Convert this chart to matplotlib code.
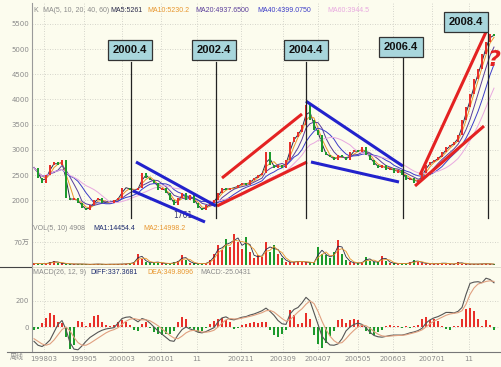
import numpy as np
import pandas as pd
import matplotlib
matplotlib.use("Agg")
import matplotlib.pyplot as plt
from matplotlib.lines import Line2D

plt.rcParams['font.family'] = ['DejaVu Sans', 'Noto Sans CJK SC']

# ============================================================
# Data (one bar every ~5 weeks)
# ============================================================

close = [2650, 2450, 2350, 2500, 2700, 2750, 2700, 2800, 2050, 2000,
         2050, 1950, 1850, 1800, 1900, 2000, 2050, 1950, 1950, 1950,
         2000, 2050, 2250, 2250, 2200, 2200, 2250, 2550, 2450, 2400,
         2350, 2200, 2250, 2150, 2000, 1900, 2050, 2150, 2000, 2100,
         1950, 1850, 1800, 1900, 1950, 2000, 2150, 2250, 2200, 2250,
         2250, 2300, 2350, 2300, 2400, 2450, 2500, 2550, 2950, 2700,
         2650, 2700, 2650, 2800, 3150, 3250, 3350, 3500, 3900, 3600,
         3400, 3300, 2950, 2900, 2850, 2800, 2900, 2850, 2800, 2950,
         3000, 2950, 3050, 2900, 2800, 2700, 2650, 2700, 2600, 2650,
         2550, 2600, 2500, 2400, 2450, 2350, 2400, 2550, 2700, 2750,
         2800, 2850, 2950, 3050, 3100, 3150, 3300, 3600, 3850, 4100,
         4400, 4600, 4900, 5150, 5300, 5250]

# volume, in 万
volume = [5, 4, 4, 5, 8, 12, 6, 5, 4, 3,
          3, 3, 3, 2, 2, 3, 3, 2, 2, 3,
          2, 3, 3, 4, 5, 10, 35, 18, 8, 6,
          10, 8, 5, 4, 5, 8, 12, 30, 15, 6,
          5, 4, 4, 6, 15, 35, 60, 45, 80, 55,
          95, 70, 50, 85, 40, 20, 30, 25, 70, 40,
          60, 35, 20, 10, 8, 10, 12, 10, 8, 8,
          6, 55, 35, 30, 20, 40, 75, 35, 15, 8,
          6, 6, 8, 25, 12, 8, 10, 28, 12, 6,
          5, 4, 5, 4, 8, 14, 10, 6, 4, 4,
          4, 4, 7, 4, 3, 3, 9, 4, 3, 3,
          3, 3, 4, 4, 3, 2]

diff = [-110, -140, -150, -130, -100, -40, 20, 50, -20, -120,
        -170, -175, -145, -110, -80, -60, -40, -25, -15, -10,
        -5, 30, 65, 75, 78, 60, 40, 65, 55, 30,
        0, -30, -55, -80, -105, -110, -60, -20, 0, -15,
        -25, -40, -45, -35, -20, -5, 40, 70, 78, 60,
        55, 65, 75, 80, 92, 100, 112, 125, 145, 120,
        90, 50, 25, 20, 100, 135, 150, 185, 228, 200,
        110, 20, -70, -110, -138, -140, -130, -90, -30, 0,
        20, 30, 20, -5, -40, -65, -75, -78, -72, -65,
        -62, -62, -62, -55, -45, -38, -28, -10, 30, 55,
        70, 80, 95, 112, 112, 108, 120, 150, 250, 335,
        345, 348, 340, 375, 365, 340]

dea = [-90, -110, -130, -140, -130, -100, -60, -20, 0, -30,
       -80, -120, -140, -140, -125, -105, -85, -65, -45, -30,
       -20, -5, 20, 45, 60, 65, 58, 55, 55, 48,
       30, 10, -15, -40, -65, -85, -90, -70, -45, -30,
       -25, -30, -38, -40, -35, -25, 0, 30, 55, 65,
       62, 62, 68, 75, 82, 90, 100, 110, 125, 128,
       115, 90, 65, 45, 55, 85, 115, 140, 175, 200,
       180, 120, 45, -20, -70, -105, -125, -120, -90, -55,
       -25, 0, 15, 10, -10, -35, -55, -68, -72, -70,
       -67, -65, -64, -60, -52, -44, -35, -22, 0, 25,
       45, 60, 75, 90, 100, 105, 110, 125, 175, 250,
       300, 330, 340, 350, 355, 350]

macd = [-20, -15, 30, 70, 105, 90, 40, 30, -80, -170,
        -140, 45, 35, 10, 30, 85, 90, 40, 15, 10,
        15, 35, 55, 40, 15, -20, -30, 20, 40, -10,
        -40, -55, -60, -55, -50, -30, 40, 75, 60, -10,
        -25, -35, -30, -10, 20, 45, 60, 68, 50, 40,
        -15, -10, 15, 20, 30, 35, 30, 38, 35, -20,
        -60, -75, -50, -20, 130, 90, 25, 30, 105, 60,
        -60, -130, -160, -120, -70, -30, 50, 65, 30, 55,
        60, 50, 15, -30, -55, -60, -40, -20, 10, 15,
        10, 5, -5, 5, -5, 5, 15, 60, 75, 55,
        60, 45, 10, -15, -20, 5, 10, 60, 140, 145,
        120, 60, 10, 50, 15, -25]

date_pos = [2.5, 12.5, 22, 31.75, 40.75, 51.75, 62.25, 71, 81, 89.75, 99.5, 108.75]
date_labels = ['199803', '199905', '200003', '200101', '11', '200211',
               '200309', '200407', '200505', '200603', '200701', '11']

events = ['2000.4', '2002.4', '2004.4', '2006.4', '2008.4']
event_pos = [24.25, 45.5, 68, 92.25, 113.5]
event_box_x = [24, 45, 68, 91.75, 108]
event_box_y = [4980, 4980, 4980, 5040, 5540]
event_line_top = [4740, 4740, 4740, 4820, 5320]

# trend channels: (x0, p0, x1, p1, colour)
channels = [
    (25.5, 2760, 45.5, 1887, 'blue'),
    (24.75, 2185, 42.75, 1570, 'blue'),
    (47, 2442, 67, 3712, 'red'),
    (45.75, 1887, 68.25, 2760, 'red'),
    (68, 3967, 92.25, 2677, 'blue'),
    (69.25, 2760, 91.25, 2363, 'blue'),
    (96.5, 2502, 113, 5339, 'red'),
    (95.25, 2284, 112.5, 3474, 'red'),
]

ma_names = ['MA5', 'MA10', 'MA20', 'MA40', 'MA60']
ma_bars = [2, 3, 5, 8, 12]   # window in bars (one bar ~ 5 weeks)
ma_colors = ['#2a2a4a', '#e8962e', '#5a3d9a', '#3c3cc8', '#e8a8e0']

# ============================================================
# Figure layout (pixel based, 502 x 367)
# ============================================================

W, H = 502, 367
BG = '#fcfcee'
RED = '#e8302a'
GREEN = '#1c9a2c'
GRAY = '#8a8a8a'

fig = plt.figure(figsize=(W / 100, H / 100), dpi=100, facecolor=BG)


def rect(left, top, right, bottom):
    return [left / W, 1 - bottom / H, (right - left) / W, (bottom - top) / H]


def ftext(x, y, s, **kw):
    kw.setdefault('family', ['Liberation Sans', 'Noto Sans CJK SC'])
    kw.setdefault('fontsize', 5)
    kw.setdefault('va', 'center')
    fig.text(x / W, 1 - y / H, s, **kw)


ax_k = fig.add_axes(rect(32, 3, 500, 224), facecolor=BG)
ax_v = fig.add_axes(rect(32, 224, 500, 267), facecolor=BG, sharex=ax_k)
ax_m = fig.add_axes(rect(32, 267, 500, 352), facecolor=BG, sharex=ax_k)

idx = np.arange(len(close))
c = np.array(close, dtype=float)
o = np.array([close[0]] + close[:-1], dtype=float)
up = c >= o

# ---------------- price panel ----------------
ax_k.bar(idx[up], (c - o)[up], bottom=o[up], width=0.55, color=RED, zorder=3)
ax_k.bar(idx[~up], (c - o)[~up], bottom=o[~up], width=0.55, color=GREEN, zorder=3)

s = pd.Series(c)
for w, col in zip(ma_bars, ma_colors):
    ax_k.plot(idx, s.rolling(w, min_periods=1).mean(), color=col, lw=0.7, zorder=2)

for x0, p0, x1, p1, col in channels:
    ax_k.plot([x0, x1], [p0, p1], color='#2222cc' if col == 'blue' else '#e42222',
              lw=2.2, solid_capstyle='butt', zorder=4)

for name, x, bx, by, top in zip(events, event_pos, event_box_x, event_box_y, event_line_top):
    ax_k.plot([x, x], [1650, top], color='#222222', lw=0.9, zorder=4)
    ax_k.text(bx, by, name, ha='center', va='center', fontsize=8,
              fontweight='bold', family='Liberation Sans', color='#111111', zorder=6,
              bbox=dict(boxstyle='square,pad=0.45', fc='#a8d6dc', ec='#333333', lw=0.9))

ax_k.text(37.25, 1708, '1761', fontsize=5.5, color='#3a3a6a', ha='center', va='center')

ax_k.set_ylim(1530, 5914)
ax_k.set_yticks([2000, 2500, 3000, 3500, 4000, 4500, 5000, 5500])

# ---------------- volume panel ----------------
vcol = np.where(up, RED, GREEN)
ax_v.bar(idx, volume, width=0.45, color=vcol, zorder=3)
vs = pd.Series(np.array(volume, dtype=float))
ax_v.plot(idx, vs.rolling(2, min_periods=1).mean(), color='#2a2a4a', lw=0.6, zorder=4)
ax_v.plot(idx, vs.rolling(3, min_periods=1).mean(), color='#e8962e', lw=0.6, zorder=4)
ax_v.set_ylim(-6, 125)
ax_v.set_yticks([70])
ax_v.set_yticklabels(['70万'])

# ---------------- MACD panel ----------------
m = np.array(macd, dtype=float)
ax_m.bar(idx, m, width=0.6, color=np.where(m >= 0, RED, GREEN), zorder=3)
ax_m.plot(idx, diff, color='#555555', lw=0.8, zorder=4)
ax_m.plot(idx, dea, color='#e0a080', lw=0.8, zorder=4)
ax_m.set_ylim(-192, 461)
ax_m.set_yticks([0, 200])

ax_m.set_xticks(date_pos)
ax_m.set_xticklabels(date_labels)
ax_m.set_xlim(-0.5, 116.5)

for ax in (ax_k, ax_v, ax_m):
    for sp in ['top', 'right', 'bottom']:
        ax.spines[sp].set_visible(False)
    ax.spines['left'].set_color('#9a9a9a')
    ax.spines['left'].set_linewidth(0.8)
    ax.tick_params(axis='y', length=0, pad=2, labelsize=5, labelcolor=GRAY)
    ax.tick_params(axis='x', length=0, pad=3, labelsize=5, labelcolor=GRAY)
    ax.grid(True, ls=(0, (1, 2)), color='#c8c8c0', lw=0.6)
    ax.set_axisbelow(True)
for ax in (ax_k, ax_v):
    ax.tick_params(axis='x', labelbottom=False)

# panel separators
fig.add_artist(Line2D([0, 32 / W], [1 - 267 / H] * 2, color='#444444', lw=0.8))
fig.add_artist(Line2D([32 / W, 500 / W], [1 - 267 / H] * 2, color='#d8d8c8', lw=0.6))
fig.add_artist(Line2D([7 / W, 500 / W], [1 - 352 / H] * 2, color='#777777', lw=0.8))

# ---------------- header texts ----------------
ftext(33, 10, 'K', color=GRAY)
ftext(43, 10, 'MA(5, 10, 20, 40, 60)', color=GRAY)
ftext(110, 10, 'MA5:5261', color=ma_colors[0])
ftext(147, 10, 'MA10:5230.2', color=ma_colors[1])
ftext(195, 10, 'MA20:4937.6500', color=ma_colors[2])
ftext(257, 10, 'MA40:4399.0750', color=ma_colors[3])
ftext(327, 10, 'MA60:3944.5', color=ma_colors[4])

ftext(33, 229, 'VOL(5, 10) 4908', color=GRAY)
ftext(93, 229, 'MA1:14454.4', color='#1c2a6e')
ftext(143, 229, 'MA2:14998.2', color='#e8962e')

ftext(33, 272, 'MACD(26, 12, 9)', color=GRAY)
ftext(90, 272, 'DIFF:337.3681', color='#1c2a6e')
ftext(147, 272, 'DEA:349.8096', color='#e8962e')
ftext(200, 272, 'MACD:-25.0431', color=GRAY)

ftext(17, 357, '周线', color=GRAY, ha='center')

ftext(494, 60, '?', fontsize=16, color='#e42222', fontweight='bold',
      fontstyle='italic', ha='center', family='DejaVu Sans')

plt.savefig('out.png', dpi=100, facecolor=BG)
